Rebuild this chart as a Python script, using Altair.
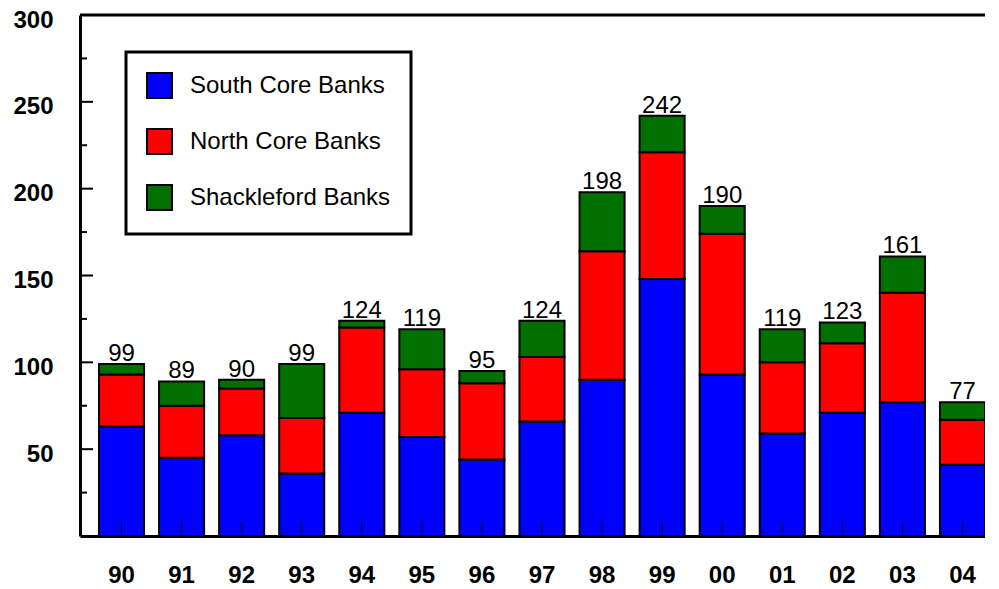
import altair as alt
import pandas as pd

years = ["90", "91", "92", "93", "94", "95", "96", "97", "98", "99", "00", "01", "02", "03", "04"]
south = [63, 45, 58, 36, 71, 57, 44, 66, 90, 148, 93, 59, 71, 77, 41]
north = [30, 30, 27, 32, 49, 39, 44, 37, 74, 73, 81, 41, 40, 63, 26]
shack = [6, 14, 5, 31, 4, 23, 7, 21, 34, 21, 16, 19, 12, 21, 10]
totals = [99, 89, 90, 99, 124, 119, 95, 124, 198, 242, 190, 119, 123, 161, 77]
series = ["South Core Banks", "North Core Banks", "Shackleford Banks"]
colors = ["#0000FF", "#FF0000", "#007000"]
y_labels = [50, 100, 150, 200, 250, 300]
major_ticks = [50, 100, 150, 200, 250]
minor_ticks = [25, 75, 125, 175, 225, 275]
y_top = [300]

W, H = 905, 521
FONT = "Liberation Sans"

rows = []
for idx, (name, vals) in enumerate(zip(series, [south, north, shack])):
    for yr, v in zip(years, vals):
        rows.append({"year": yr, "series": name, "value": v, "idx": idx})
long = pd.DataFrame(rows)
tot = pd.DataFrame({"year": years, "total": totals})

xscale = alt.Scale(domain=years, paddingInner=0.25, paddingOuter=0.158, align=1)
yscale = alt.Scale(domain=[0, 300], nice=False, zero=True)
xaxis = alt.Axis(title=None, labelAngle=0, labelFontSize=24, labelFontWeight="bold",
                 labelFont=FONT, labelColor="black", labelPadding=27, ticks=False,
                 tickSize=0, domainWidth=3, domainColor="black")
yaxis = alt.Axis(values=y_labels, title=None, ticks=False, tickSize=0, grid=False,
                 labelFontSize=24, labelFontWeight="bold", labelFont=FONT,
                 labelColor="black", labelPadding=27, labelOffset=5,
                 domainWidth=3, domainColor="black")

bars = alt.Chart(long).mark_bar(stroke="black", strokeWidth=2).encode(
    x=alt.X("year:N", scale=xscale, sort=years, axis=xaxis),
    y=alt.Y("value:Q", stack="zero", scale=yscale, axis=yaxis),
    color=alt.Color("series:N", scale=alt.Scale(domain=series, range=colors),
                    legend=alt.Legend(orient="none", legendX=46, legendY=37, title=None,
                                      labelFontSize=24, labelFont=FONT, labelColor="black",
                                      labelLimit=400, symbolType="square", symbolSize=625,
                                      symbolStrokeColor="black", symbolStrokeWidth=2,
                                      symbolOpacity=1, padding=20, rowPadding=23,
                                      labelOffset=17, strokeColor="black", fillColor="white")),
    order=alt.Order("idx:Q", sort="ascending"),
)

labels = alt.Chart(tot).mark_text(dy=-3, baseline="alphabetic", fontSize=24, font=FONT,
                                  color="black").encode(
    x=alt.X("year:N", scale=xscale, sort=years, axis=xaxis),
    y=alt.Y("total:Q", scale=yscale, axis=yaxis),
    text="total:Q",
)

xticks = alt.Chart(pd.DataFrame({"year": years})).mark_rule(color="black", strokeWidth=1.5,
                                                             opacity=0.6).encode(
    x=alt.X("year:N", scale=xscale, sort=years, axis=xaxis),
    y=alt.value(H), y2=alt.value(H - 15),
)

ymajor = alt.Chart(pd.DataFrame({"v": major_ticks})).mark_rule(color="black", strokeWidth=2).encode(
    y=alt.Y("v:Q", scale=yscale, axis=yaxis), x=alt.value(0), x2=alt.value(13),
)
yminor = alt.Chart(pd.DataFrame({"v": minor_ticks})).mark_rule(color="black", strokeWidth=2).encode(
    y=alt.Y("v:Q", scale=yscale, axis=yaxis), x=alt.value(0), x2=alt.value(7),
)
topframe = alt.Chart(pd.DataFrame({"v": y_top})).mark_rule(color="black", strokeWidth=3).encode(
    y=alt.Y("v:Q", scale=yscale, axis=yaxis), x=alt.value(0), x2=alt.value(W),
)

chart = alt.layer(bars, labels, xticks, ymajor, yminor, topframe).properties(
    width=W, height=H,
    autosize=alt.AutoSizeParams(type="none"),
    padding={"left": 72, "top": 7, "right": 0, "bottom": 58},
).configure_view(stroke=None).configure_legend(strokeWidth=3)

chart.save("out.html", embed_options={"renderer": "svg", "actions": False})
